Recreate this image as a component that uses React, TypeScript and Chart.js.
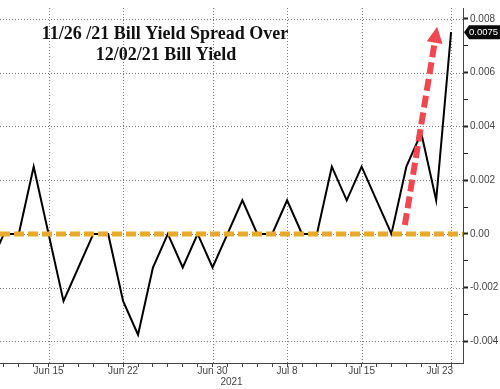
import React, { useEffect, useRef } from "react";
import { Chart, registerables } from "chart.js";

Chart.register(...registerables);

const dates = [
  "Jun 9", "Jun 10", "Jun 11", "Jun 14", "Jun 15", "Jun 16", "Jun 17", "Jun 18",
  "Jun 21", "Jun 22", "Jun 23", "Jun 24", "Jun 25", "Jun 28", "Jun 29", "Jun 30",
  "Jul 1", "Jul 2", "Jul 6", "Jul 7", "Jul 8", "Jul 9", "Jul 12", "Jul 13",
  "Jul 14", "Jul 15", "Jul 16", "Jul 19", "Jul 20", "Jul 21", "Jul 22", "Jul 23",
];
const spread = [
  -0.00125, 0, 0, 0.0025, 0, -0.0025, -0.00125, 0,
  0, -0.0025, -0.00375, -0.00125, 0, -0.00125, 0, -0.00125,
  0, 0.00125, 0, 0, 0.00125, 0, 0, 0.0025,
  0.00125, 0.0025, 0.00125, 0, 0.0025, 0.00375, 0.00125, 0.0075,
];
const labelledDates = ["Jun 15", "Jun 22", "Jun 30", "Jul 8", "Jul 15", "Jul 23"];
const yTickValues = [-0.004, -0.003, -0.002, -0.001, 0, 0.001, 0.002, 0.003, 0.004, 0.005, 0.006, 0.007, 0.008];
const yLabelled = [-0.004, -0.002, 0, 0.002, 0.004, 0.006, 0.008];
const titleLines = ["11/26 /21 Bill Yield Spread Over", "12/02/21 Bill Yield"];
const yearLabel = "2021";
const zeroLevel = 0;
// arrow annotation in data coordinates: [index, value]
const arrowFrom = [27.9, 0.00033];
const arrowTo = [30.07, 0.0077];

const X_MIN = 0.74;
const X_MAX = 31.8;
const Y_MIN = -0.0048;
const Y_MAX = 0.0084;

const LABEL_FONT = "10px 'Liberation Sans', Arial, sans-serif";
const isLabelledY = (v: number) => yLabelled.some((l) => Math.abs(l - v) < 1e-9);
const fmtY = (v: number) => (Math.abs(v) < 1e-9 ? "0.00" : v.toFixed(3));
const lastDate = dates[dates.length - 1];

const overlay = {
  id: "overlay",
  beforeDatasetsDraw(chart: any) {
    const { ctx, scales, chartArea } = chart;
    const xs = scales.x;
    const ys = scales.y;
    ctx.save();
    ctx.strokeStyle = "#7a7a7a";
    ctx.lineWidth = 1;
    ctx.setLineDash([1, 2]);
    labelledDates.forEach((d) => {
      const x = Math.round(xs.getPixelForValue(dates.indexOf(d))) + 0.5;
      ctx.beginPath();
      ctx.moveTo(x, chartArea.top);
      ctx.lineTo(x, chartArea.bottom);
      ctx.stroke();
    });
    yLabelled.forEach((v) => {
      const y = Math.round(ys.getPixelForValue(v)) + 0.5;
      ctx.beginPath();
      ctx.moveTo(chartArea.left, y);
      ctx.lineTo(chartArea.right, y);
      ctx.stroke();
    });
    ctx.restore();
  },
  afterDatasetsDraw(chart: any) {
    const { ctx, scales } = chart;
    const xs = scales.x;
    const ys = scales.y;
    // red dashed arrow
    const x1 = xs.getPixelForValue(arrowFrom[0]);
    const y1 = ys.getPixelForValue(arrowFrom[1]);
    const x2 = xs.getPixelForValue(arrowTo[0]);
    const y2 = ys.getPixelForValue(arrowTo[1]);
    const ang = Math.atan2(y2 - y1, x2 - x1);
    const headLen = 16;
    const headW = 8;
    const bx = x2 - headLen * Math.cos(ang);
    const by = y2 - headLen * Math.sin(ang);
    ctx.save();
    ctx.strokeStyle = "#ef4850";
    ctx.lineWidth = 6;
    ctx.setLineDash([12, 5]);
    ctx.beginPath();
    ctx.moveTo(x1, y1);
    ctx.lineTo(bx, by);
    ctx.stroke();
    ctx.setLineDash([]);
    ctx.fillStyle = "#ef4850";
    ctx.beginPath();
    ctx.moveTo(x2, y2);
    ctx.lineTo(bx + headW * Math.sin(ang), by - headW * Math.cos(ang));
    ctx.lineTo(bx - headW * Math.sin(ang), by + headW * Math.cos(ang));
    ctx.closePath();
    ctx.fill();
    ctx.restore();
  },
  afterDraw(chart: any) {
    const { ctx, scales, chartArea } = chart;
    const xs = scales.x;
    const ys = scales.y;
    ctx.save();
    // title
    ctx.fillStyle = "#111";
    ctx.font = "bold 18px 'Liberation Serif', serif";
    ctx.textAlign = "center";
    ctx.textBaseline = "alphabetic";
    ctx.fillText(titleLines[0], 165, 39);
    ctx.fillText(titleLines[1], 166, 60);
    // last x label, kept inside the plot like the original
    ctx.fillStyle = "#444";
    ctx.font = LABEL_FONT;
    ctx.textAlign = "right";
    ctx.textBaseline = "middle";
    ctx.fillText(lastDate, xs.getPixelForValue(dates.length - 1) + 2, 371);
    // year
    ctx.textAlign = "center";
    ctx.fillText(yearLabel, (chartArea.left + chartArea.right) / 2, 382);
    // last value box
    const last = spread[spread.length - 1];
    const yy = ys.getPixelForValue(last);
    const bxl = chartArea.right + 1;
    ctx.fillStyle = "#0a0a0a";
    ctx.beginPath();
    ctx.moveTo(bxl, yy);
    ctx.lineTo(bxl + 5, yy - 7);
    ctx.lineTo(500, yy - 7);
    ctx.lineTo(500, yy + 7);
    ctx.lineTo(bxl + 5, yy + 7);
    ctx.closePath();
    ctx.fill();
    ctx.fillStyle = "#fff";
    ctx.textAlign = "left";
    ctx.font = "9.5px 'Liberation Sans', Arial, sans-serif";
    ctx.fillText(last.toFixed(4), bxl + 5, yy + 0.5);
    ctx.restore();
  },
};

export default function App() {
  const ref = useRef<HTMLCanvasElement>(null);
  useEffect(() => {
    document.body.style.margin = "0";
    const chart = new Chart(ref.current!, {
      type: "line",
      data: {
        datasets: [
          {
            data: [
              { x: X_MIN, y: zeroLevel },
              { x: X_MAX, y: zeroLevel },
            ],
            borderColor: "#e9aa2b",
            borderWidth: 5,
            borderDash: [10, 4],
            pointRadius: 0,
            order: 0,
          },
          {
            data: spread.map((v, i) => ({ x: i, y: v })),
            borderColor: "#000",
            borderWidth: 2,
            pointRadius: 0,
            tension: 0,
            order: 1,
          },
        ],
      },
      options: {
        animation: false,
        responsive: false,
        maintainAspectRatio: false,
        layout: { padding: 0 },
        plugins: { legend: { display: false }, tooltip: { enabled: false }, title: { display: false } },
        scales: {
          x: {
            type: "linear",
            min: X_MIN,
            max: X_MAX,
            afterBuildTicks: (s: any) => {
              s.ticks = dates.map((_, i) => ({ value: i })).filter((t) => t.value >= X_MIN && t.value <= X_MAX);
            },
            afterFit: (s: any) => {
              s.height = 26;
            },
            ticks: {
              autoSkip: false,
              maxRotation: 0,
              padding: -2,
              color: "#444",
              font: { size: 10, family: "'Liberation Sans', Arial, sans-serif" },
              callback: (v: any) => {
                const d = dates[Math.round(Number(v))];
                return labelledDates.includes(d) && d !== lastDate ? d : "";
              },
            },
            grid: {
              drawOnChartArea: false,
              color: "#444",
              tickColor: "#444",
              tickLength: 4,
              drawTicks: true,
            },
            border: { display: true, color: "#444", width: 1 },
          },
          y: {
            type: "linear",
            position: "right",
            min: Y_MIN,
            max: Y_MAX,
            afterBuildTicks: (s: any) => {
              s.ticks = yTickValues.map((v) => ({ value: v }));
            },
            afterFit: (s: any) => {
              s.width = 37;
            },
            ticks: {
              autoSkip: false,
              padding: 2,
              color: "#444",
              font: { size: 10, family: "'Liberation Sans', Arial, sans-serif" },
              callback: (v: any) => (isLabelledY(Number(v)) ? fmtY(Number(v)) : ""),
            },
            grid: {
              drawOnChartArea: false,
              color: "#222",
              tickColor: "#222",
              tickWidth: (c: any) => (isLabelledY(c.tick?.value ?? 1) ? 2 : 1),
              tickLength: 5,
            },
            border: { display: true, color: "#444", width: 1 },
          },
        },
      },
      plugins: [overlay],
    });
    return () => chart.destroy();
  }, []);
  return (
    <div style={{ position: "absolute", left: 0, top: 0, width: 500, height: 389, background: "#fff" }}>
      <canvas ref={ref} width={500} height={389} style={{ display: "block", width: 500, height: 389 }} />
    </div>
  );
}
